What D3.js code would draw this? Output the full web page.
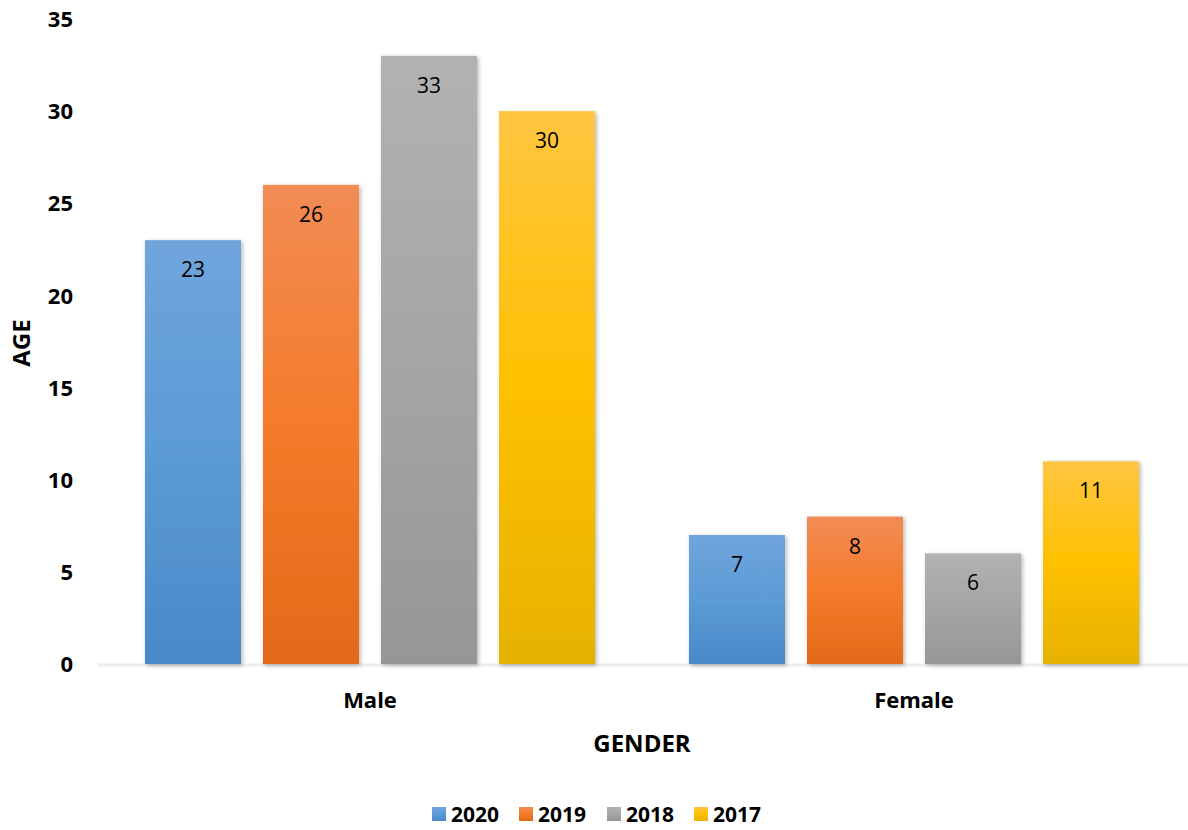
<!DOCTYPE html>
<html><head><meta charset="utf-8">
<script src="https://cdn.jsdelivr.net/npm/d3@7"></script>
<style>body{margin:0;background:#fff}svg{display:block}text{font-family:"Open Sans",sans-serif}</style>
</head><body>
<svg id="c" width="1188" height="830"></svg>
<script>
const categories = ["Male", "Female"];
const series = ["2020", "2019", "2018", "2017"];
const values2020 = [23, 7];
const values2019 = [26, 8];
const values2018 = [33, 6];
const values2017 = [30, 11];
const yTicks = [0, 5, 10, 15, 20, 25, 30, 35];
const colors = {
  "2020": ["#70a5dc", "#5b9bd5", "#4a88c9"],
  "2019": ["#f28c55", "#f47b2a", "#e26a19"],
  "2018": ["#b2b2b2", "#a5a5a5", "#969696"],
  "2017": ["#ffc641", "#ffc000", "#e6b200"]
};
const valueMap = {"2020": values2020, "2019": values2019, "2018": values2018, "2017": values2017};

const svg = d3.select("#c");
const defs = svg.append("defs");
series.forEach((s, i) => {
  const g = defs.append("linearGradient").attr("id", "g" + i).attr("x1", 0).attr("y1", 0).attr("x2", 0).attr("y2", 1);
  g.append("stop").attr("offset", "0%").attr("stop-color", colors[s][0]);
  g.append("stop").attr("offset", "50%").attr("stop-color", colors[s][1]);
  g.append("stop").attr("offset", "100%").attr("stop-color", colors[s][2]);
});
const f = defs.append("filter").attr("id", "sh").attr("x", "-10%").attr("y", "-10%").attr("width", "130%").attr("height", "130%");
f.append("feDropShadow").attr("dx", 1.5).attr("dy", 1.5).attr("stdDeviation", 2).attr("flood-color", "#000").attr("flood-opacity", 0.3);

const y = d3.scaleLinear().domain([0, 35]).range([664, 19]);
const x0 = d3.scaleBand().domain(categories).range([98, 1186]).paddingInner(0.1728).paddingOuter(0.0864);
const x1 = d3.scaleBand().domain(series).range([0, x0.bandwidth()]).paddingInner(0.1864).paddingOuter(0);

// baseline
svg.append("line").attr("x1", 97).attr("x2", 1188).attr("y1", y(0) + 1).attr("y2", y(0) + 1)
  .attr("stroke", "#eeeeee").attr("stroke-width", 3);

// y axis labels
const yAxis = d3.axisLeft(y).tickValues(yTicks).tickSize(0).tickPadding(0);
const ya = svg.append("g").attr("transform", "translate(73,0)").call(yAxis);
ya.select(".domain").remove();
ya.selectAll("text").attr("font-family", "Open Sans").attr("font-weight", "bold").attr("font-size", 22).attr("fill", "#000").attr("dy", "0.35em");

// bars
const groups = svg.append("g").selectAll("g").data(categories).join("g")
  .attr("transform", d => `translate(${x0(d)},0)`);
groups.each(function(cat, ci) {
  const g = d3.select(this);
  series.forEach((s, si) => {
    const v = valueMap[s][ci];
    g.append("rect").attr("x", x1(s)).attr("y", y(v)).attr("width", x1.bandwidth()).attr("height", y(0) - y(v))
      .attr("fill", `url(#g${si})`).attr("filter", "url(#sh)");
    g.append("text").attr("x", x1(s) + x1.bandwidth() / 2).attr("y", y(v) + 37)
      .attr("text-anchor", "middle").attr("font-size", 21).attr("fill", "#000").text(v);
  });
});

// x axis labels
const xAxis = d3.axisBottom(x0).tickSize(0).tickPadding(0);
const xa = svg.append("g").attr("transform", `translate(0,${y(0)})`).call(xAxis);
xa.select(".domain").remove();
xa.selectAll("text").attr("font-family", "Open Sans").attr("font-weight", "bold").attr("font-size", 22).attr("fill", "#000")
  .attr("dy", 0).attr("y", 44);

// axis titles
svg.append("text").attr("x", 642).attr("y", 752).attr("text-anchor", "middle").attr("font-weight", "bold").attr("font-size", 24).text("GENDER");
svg.append("text").attr("transform", "translate(30,343) rotate(-90)").attr("text-anchor", "middle").attr("font-weight", "bold").attr("font-size", 24).text("AGE");

// legend
const legendX = [432, 519, 607, 694];
const lg = svg.append("g");
series.forEach((s, i) => {
  lg.append("rect").attr("x", legendX[i]).attr("y", 807).attr("width", 14).attr("height", 14).attr("fill", `url(#g${i})`);
  lg.append("text").attr("x", legendX[i] + 19).attr("y", 822).attr("font-weight", "bold").attr("font-size", 21).text(s);
});
</script>
</body></html>
